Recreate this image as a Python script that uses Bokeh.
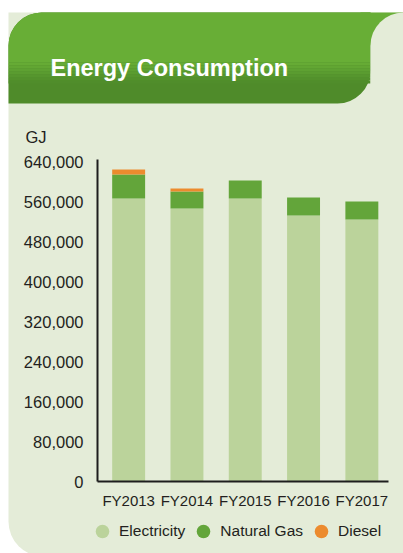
from bokeh.plotting import figure
from bokeh.models import (BoxAnnotation, Label, Legend, LegendItem, FixedTicker,
                          NumeralTickFormatter, ColumnDataSource, Range1d)
from bokeh.embed import file_html
from bokeh.resources import INLINE

# ---- data ----
years = ["FY2013", "FY2014", "FY2015", "FY2016", "FY2017"]
electricity = [566000, 546000, 566000, 532000, 524000]
natural_gas = [48000, 34000, 36000, 36000, 36000]
diesel = [10000, 6000, 0, 0, 0]
series_names = ["Electricity", "Natural Gas", "Diesel"]
y_ticks = [0, 80000, 160000, 240000, 320000, 400000, 480000, 560000, 640000]
title_text = "Energy Consumption"
unit_text = "GJ"

# ---- style ----
PANEL = "#E4ECD8"
HEAD_LIGHT = "#68AE36"
HEAD_DARK = "#4F8B2A"
C_ELEC = "#BBD39B"
C_GAS = "#63A53A"
C_DIESEL = "#EC8B2E"
TEXT = "#231F20"
FONT = "Liberation Sans"

W, H = 403, 553

x_idx = list(range(len(years)))
source = ColumnDataSource(data=dict(x=x_idx, years=years, electricity=electricity,
                                    natural_gas=natural_gas, diesel=diesel))

# frame covers the whole canvas; axes are pinned inside it
p = figure(width=W, height=H, x_range=Range1d(-2.1981, 4.7144), y_range=Range1d(-144000, 962000),
           output_backend="svg", toolbar_location=None, min_border=0)
p.min_border_left = p.min_border_right = p.min_border_top = p.min_border_bottom = 0
p.background_fill_color = "white"
p.border_fill_color = "white"
p.outline_line_color = None
p.grid.visible = False


def box(left, right, top, bottom, color, radius=(0, 0, 0, 0)):
    b = BoxAnnotation(left=left, right=right, top=top, bottom=bottom,
                      left_units="canvas", right_units="canvas",
                      top_units="canvas", bottom_units="canvas",
                      fill_color=color, fill_alpha=1.0, line_color=None,
                      border_radius=radius, level="underlay")
    p.add_layout(b)


# panel + header shapes
box(8, W, 12, 556, PANEL, (0, 0, 0, 35))
box(8, 370, 12, 103, HEAD_DARK, (33, 0, 33, 0))
box(8, 370, 12, 62, HEAD_LIGHT, (33, 0, 0, 0))
strip_cols = ["#66AB35", "#62A633", "#5EA132", "#5A9C30", "#56962E", "#53912C", "#508D2B"]
for i, c in enumerate(strip_cols):
    box(8, 370, 62 + 3 * i, 65 + 3 * i, c)
box(360, W, 12, 45, HEAD_LIGHT)
box(370, W, 12, 150, PANEL, (33, 0, 0, 0))

p.add_layout(Label(x=50, y=67, x_units="canvas", y_units="canvas", text=title_text,
                   text_font=FONT, text_font_style="bold",
                   text_font_size="23.5px", text_color="white", text_baseline="alphabetic"))
p.add_layout(Label(x=25, y=136, x_units="canvas", y_units="canvas", text=unit_text,
                   text_font=FONT, text_font_size="16.5px", text_color=TEXT,
                   text_baseline="alphabetic"))

# bars
renderers = p.vbar_stack(["electricity", "natural_gas", "diesel"], x="x", width=0.565,
                         color=[C_ELEC, C_GAS, C_DIESEL], line_color=None, source=source)

# legend (circle proxies)
proxies = []
for col in [C_ELEC, C_GAS, C_DIESEL]:
    proxies.append(p.scatter(x=[x_idx[0]], y=[float("nan")], marker="circle",
                             fill_color=col, line_color=None))
legend = Legend(items=[LegendItem(label=n, renderers=[r]) for n, r in zip(series_names, proxies)],
                orientation="horizontal", location=(85, 3),
                glyph_width=34, glyph_height=38, label_standoff=0, spacing=1,
                padding=0, margin=0, border_line_color=None, background_fill_alpha=0,
                label_text_font=FONT, label_text_font_size="15.5px", label_text_color=TEXT)
p.add_layout(legend, "center")

# axes pinned at data locations
p.yaxis.fixed_location = -0.534
p.yaxis.bounds = (0, 644000)
p.yaxis.ticker = FixedTicker(ticks=y_ticks)
p.yaxis.formatter = NumeralTickFormatter(format="0,0")
p.yaxis.major_label_text_font = FONT
p.yaxis.major_label_text_font_size = "16.5px"
p.yaxis.major_label_text_color = TEXT
p.yaxis.major_label_standoff = 14

p.xaxis.fixed_location = 0
p.xaxis.bounds = (-0.534, 4.46)
p.xaxis.ticker = FixedTicker(ticks=x_idx)
p.xaxis.major_label_overrides = {i: y for i, y in zip(x_idx, years)}
p.xaxis.major_label_text_font = FONT
p.xaxis.major_label_text_font_size = "15px"
p.xaxis.major_label_text_color = TEXT
p.xaxis.major_label_standoff = 10
for ax in (p.xaxis, p.yaxis):
    ax.major_tick_line_color = None
    ax.minor_tick_line_color = None
    ax.major_tick_out = 0
    ax.major_tick_in = 0
    ax.axis_line_color = "#1E1E1E"
    ax.axis_line_width = 2

open("out.html", "w").write(file_html(p, INLINE))
